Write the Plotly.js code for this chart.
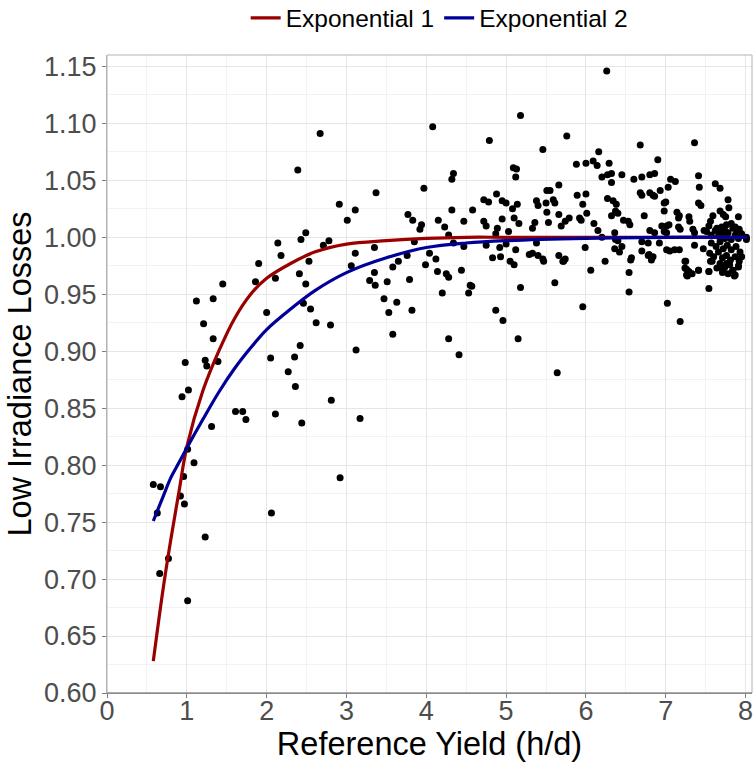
<!DOCTYPE html>
<html>
<head>
<meta charset="utf-8">
<script src="https://cdn.plot.ly/plotly-3.0.1.min.js"></script>
<style>html,body{margin:0;padding:0;background:#fff;}</style>
</head>
<body>
<div id="chart" style="width:753px;height:763px;"></div>
<script>
// Observed points: [Reference Yield (h/d), Low Irradiance Losses]
const observations = [
[0.58,0.783],[0.67,0.781],[0.63,0.758],[0.92,0.773],[0.97,0.766],[2.06,0.758],[1.23,0.737],[0.77,0.718],[0.66,0.705],[1.01,0.681],
[1.90,0.977],[1.45,0.959],[1.86,0.961],[2.11,0.964],[2.41,0.968],[2.53,0.979],[2.49,0.959],[1.12,0.944],[1.33,0.946],[2.00,0.934],
[2.46,0.942],[2.55,0.937],[2.62,0.925],[1.21,0.924],[1.33,0.911],[0.98,0.890],[1.23,0.892],[1.25,0.887],[1.39,0.891],[2.05,0.894],
[2.42,0.905],[2.35,0.895],[2.27,0.882],[2.36,0.869],[1.02,0.866],[0.94,0.860],[1.61,0.847],[1.70,0.847],[1.74,0.840],[2.11,0.845],
[2.44,0.837],[1.31,0.834],[1.01,0.814],[1.09,0.802],[0.96,0.790],
[2.39,1.059],[2.67,1.091],[2.14,0.995],[2.43,0.998],[2.49,1.004],[2.18,0.984],
[4.08,1.097],[5.18,1.107],[4.79,1.085],[3.97,1.043],[4.34,1.056],[4.32,1.051],[5.09,1.061],[5.13,1.060],[5.12,1.053],[3.37,1.039],
[2.91,1.029],[3.11,1.024],[3.01,1.015],[2.78,0.997],[2.71,0.993],[3.11,0.986],[3.35,0.991],[3.06,0.975],[3.77,1.020],[3.83,1.015],
[3.94,1.011],[3.92,1.007],[3.85,0.996],[3.76,0.984],[3.58,0.974],[3.65,0.979],[3.99,0.976],[4.12,0.981],[4.15,1.015],[4.23,1.009],
[4.28,1.002],[4.34,0.995],[4.32,1.024],[4.47,1.014],[4.58,1.024],[4.47,0.992],[4.44,0.971],[4.72,1.033],[4.78,1.031],[4.72,1.014],
[4.75,1.010],[4.75,0.993],[4.88,1.038],[4.95,1.032],[5.00,1.030],[5.08,1.025],[5.14,1.029],[4.95,1.016],[5.10,1.017],[5.16,1.012],
[4.89,1.008],[4.87,1.003],[5.03,1.005],[4.92,0.991],[5.00,0.994],[5.12,0.989],[4.83,0.982],[4.93,0.983],[5.05,0.979],[5.10,0.976],
[5.29,0.985],[4.04,0.986],
[3.35,0.969],[3.29,0.962],[3.36,0.958],[3.51,0.961],[3.79,0.963],[4.14,0.970],[4.25,0.968],[4.28,0.965],[4.55,0.958],[4.57,0.957],
[4.53,0.951],[4.20,0.951],[5.18,0.956],[2.80,0.923],[3.47,0.946],[3.63,0.943],[3.53,0.934],[3.82,0.936],[3.58,0.915],[3.12,0.901],
[4.28,0.911],[4.41,0.897],[4.87,0.936],[4.96,0.927],[5.15,0.911],[2.81,0.857],[3.17,0.841],[2.92,0.789],
[5.61,0.960],[6.06,0.971],[6.54,0.969],[6.54,0.952],[5.96,0.939],[7.02,0.942],[7.18,0.926],[5.64,0.881],[7.54,0.955],[7.54,0.970],
[7.26,0.972],[7.30,0.968],[7.27,0.966],[7.41,0.971],[7.71,0.969],[7.84,0.971],[7.86,0.966],[7.68,0.974],[7.76,0.977],[7.91,0.975],
[7.24,0.979],[6.24,0.979],[5.72,0.979],[5.47,0.979],[6.82,0.980],[6.56,0.980],[7.56,0.979],
[6.26,1.146],[5.76,1.089],[5.46,1.077],[6.16,1.075],[6.68,1.081],[7.36,1.083],[6.90,1.068],[5.88,1.064],[6.00,1.065],[6.09,1.067],
[6.14,1.063],[6.29,1.065],[6.20,1.053],[6.27,1.055],[6.32,1.056],[6.32,1.048],[6.45,1.055],[6.60,1.051],[6.70,1.053],[6.80,1.055],
[6.86,1.056],[7.06,1.051],[7.12,1.049],[7.03,1.044],[6.93,1.041],[7.41,1.054],[7.42,1.044],[7.41,1.030],[7.44,1.028],[7.62,1.047],
[7.68,1.043],[7.78,1.033],[7.79,1.026],[7.68,1.023],[7.72,1.020],[7.75,1.018],[7.91,1.018],[7.59,1.019],[7.56,1.014],[7.54,1.010],
[7.48,1.006],[7.64,1.008],[7.68,1.006],[7.74,1.006],[7.82,1.012],[7.87,1.009],[7.92,1.007],[8.01,1.000],
[5.51,1.041],[5.55,1.041],[5.66,1.046],[5.38,1.032],[5.40,1.028],[5.50,1.030],[5.51,1.022],[5.59,1.033],[5.61,1.030],[5.89,1.037],
[6.00,1.038],[5.96,1.029],[6.01,1.021],[5.92,1.017],[5.94,1.015],[5.66,1.020],[5.79,1.017],[5.74,1.014],[5.69,1.010],[5.53,1.013],
[5.36,1.013],[5.33,1.008],[6.10,1.012],[6.15,1.006],[6.27,1.034],[6.34,1.032],[6.38,1.029],[6.37,1.023],[6.40,1.021],[6.32,1.019],
[6.47,1.015],[6.53,1.014],[6.55,1.011],[6.73,1.019],[6.68,1.039],[6.70,1.037],[6.80,1.039],[6.84,1.037],[6.86,1.036],[6.98,1.030],
[7.00,1.031],[6.98,1.023],[7.14,1.022],[7.17,1.019],[7.16,1.017],[7.29,1.018],[7.30,1.014],[7.34,1.007],[7.36,1.004],[7.16,1.009],
[7.18,1.007],[7.01,1.010],[7.04,1.011],[6.95,1.010],[6.98,1.005],[7.01,1.004],[6.80,1.006],[6.86,1.004],[6.36,1.004],
[5.38,0.995],[5.33,0.986],[5.40,0.984],[5.46,0.981],[5.66,0.984],[5.74,0.981],[5.71,0.979],[5.99,0.991],[6.40,0.997],[6.45,0.992],
[6.36,0.990],[6.42,0.987],[6.57,0.982],[6.70,0.988],[6.78,0.995],[6.78,0.984],[6.82,0.982],[6.92,0.995],[7.01,0.989],[7.05,0.988],
[7.11,0.989],[7.17,0.989],[7.36,0.993],[6.20,1.000],[6.37,0.998],[6.70,0.996],
[6.79,0.985],[6.84,0.983],[7.25,0.979],[7.24,0.973],[7.29,0.970],[7.33,0.968],[7.41,0.971],[7.26,0.967],[7.47,0.990],[7.54,0.970],
[7.51,1.005],[7.57,1.002],[7.62,1.006],[7.66,1.001],[7.70,1.003],[7.74,0.999],[7.78,1.004],[7.82,0.998],[7.87,1.002],[7.91,0.999],
[7.95,1.003],[7.57,0.995],[7.63,0.992],[7.68,0.996],[7.72,0.990],[7.77,0.993],[7.82,0.989],[7.88,0.992],[7.93,0.987],[7.55,0.986],
[7.60,0.983],[7.66,0.987],[7.71,0.982],[7.76,0.984],[7.81,0.980],[7.87,0.983],[7.92,0.979],[7.95,0.983],[7.58,0.979],[7.68,0.977],
[7.74,0.974],[7.80,0.976],[7.84,0.971],[7.91,0.974],[7.72,0.970],[7.64,0.973],[7.78,0.968],[7.87,0.967],[7.70,1.009],[7.76,1.011],
[7.84,1.008],[7.89,1.006],[8.01,0.998]
];
const refYield = observations.map(p => p[0]);
const lowIrrLoss = observations.map(p => p[1]);

// Fitted curves
const fitX      = [0.58, 0.70, 0.80, 0.90, 1.00, 1.20, 1.40, 1.60, 1.80, 2.00, 2.30, 2.60, 3.00, 3.50, 4.00, 4.50, 5.00, 6.00, 7.00, 8.01];
const expo1Y    = [0.628,0.690,0.735,0.776,0.816,0.865,0.900,0.929,0.950,0.964,0.977,0.987,0.994,0.997,0.999,1.000,1.000,1.000,1.000,1.000];
const expo2Y    = [0.751,0.772,0.789,0.802,0.815,0.840,0.864,0.885,0.903,0.919,0.937,0.953,0.969,0.982,0.991,0.995,0.997,0.999,1.000,1.000];

const seriesNames = ['Exponential 1', 'Exponential 2'];
const xTicks = [0,1,2,3,4,5,6,7,8];
const yTicks = [0.60,0.65,0.70,0.75,0.80,0.85,0.90,0.95,1.00,1.05,1.10,1.15];

const FONT = 'Liberation Sans, Arial, Helvetica, sans-serif';
const traces = [
  {x: refYield, y: lowIrrLoss, type:'scatter', mode:'markers', showlegend:false,
   marker:{color:'#000000', size:7}, hoverinfo:'skip'},
  {x: fitX, y: expo1Y, type:'scatter', mode:'lines', name: seriesNames[0],
   line:{color:'#990000', width:3.2, shape:'spline', smoothing:1}},
  {x: fitX, y: expo2Y, type:'scatter', mode:'lines', name: seriesNames[1],
   line:{color:'#000099', width:3.2, shape:'spline', smoothing:1}}
];

const layout = {
  width:753, height:763,
  margin:{l:107, r:1, t:55, b:70, pad:0, autoexpand:false},
  paper_bgcolor:'#ffffff', plot_bgcolor:'#ffffff',
  font:{family:FONT, color:'#000000'},
  showlegend:true,
  legend:{orientation:'h', x:0.515, xanchor:'center', y:1.058, yanchor:'middle',
          font:{family:FONT, size:24.5, color:'#000000'}, bgcolor:'rgba(0,0,0,0)',
          itemwidth:30, tracegroupgap:0},
  xaxis:{range:[0,8.08], tickvals:xTicks, ticktext:xTicks.map(String),
         ticks:'outside', ticklen:4, tickcolor:'#7f7f7f', tickwidth:1,
         ticklabelstandoff:-10, ticklabeloverflow:'allow',
         showline:true, linecolor:'#7f7f7f', linewidth:1, zeroline:false,
         showgrid:true, gridcolor:'#e6e6e6', gridwidth:1,
         minor:{dtick:0.5, tick0:0, showgrid:true, gridcolor:'#f2f2f2', gridwidth:1},
         tickfont:{family:FONT, size:27, color:'#4d4d4d'},
         title:{text:'Reference Yield (h/d)', font:{family:FONT, size:32.5, color:'#000000'}, standoff:3}},
  yaxis:{range:[0.60,1.16], tickvals:yTicks, ticktext:yTicks.map(v=>v.toFixed(2)),
         ticks:'outside', ticklen:4, tickcolor:'#7f7f7f', tickwidth:1,
         ticklabeloverflow:'allow',
         showline:true, linecolor:'#b3b3b3', linewidth:1, zeroline:false,
         showgrid:true, gridcolor:'#e6e6e6', gridwidth:1,
         minor:{dtick:0.025, tick0:0.6, showgrid:true, gridcolor:'#f2f2f2', gridwidth:1},
         tickfont:{family:FONT, size:27, color:'#4d4d4d'},
         title:{text:'Low Irradiance Losses', font:{family:FONT, size:32.5, color:'#000000'}, standoff:2}},
  shapes:[{type:'rect', xref:'paper', yref:'paper', x0:0, x1:1, y0:0, y1:1,
           line:{color:'#b3b3b3', width:1}, fillcolor:'rgba(0,0,0,0)', layer:'above'},
          {type:'line', xref:'paper', yref:'paper', x0:0, x1:1, y0:0, y1:0,
           line:{color:'#7f7f7f', width:1}, layer:'above'}]
};

Plotly.newPlot('chart', traces, layout, {displayModeBar:false, staticPlot:true});
</script>
</body>
</html>
